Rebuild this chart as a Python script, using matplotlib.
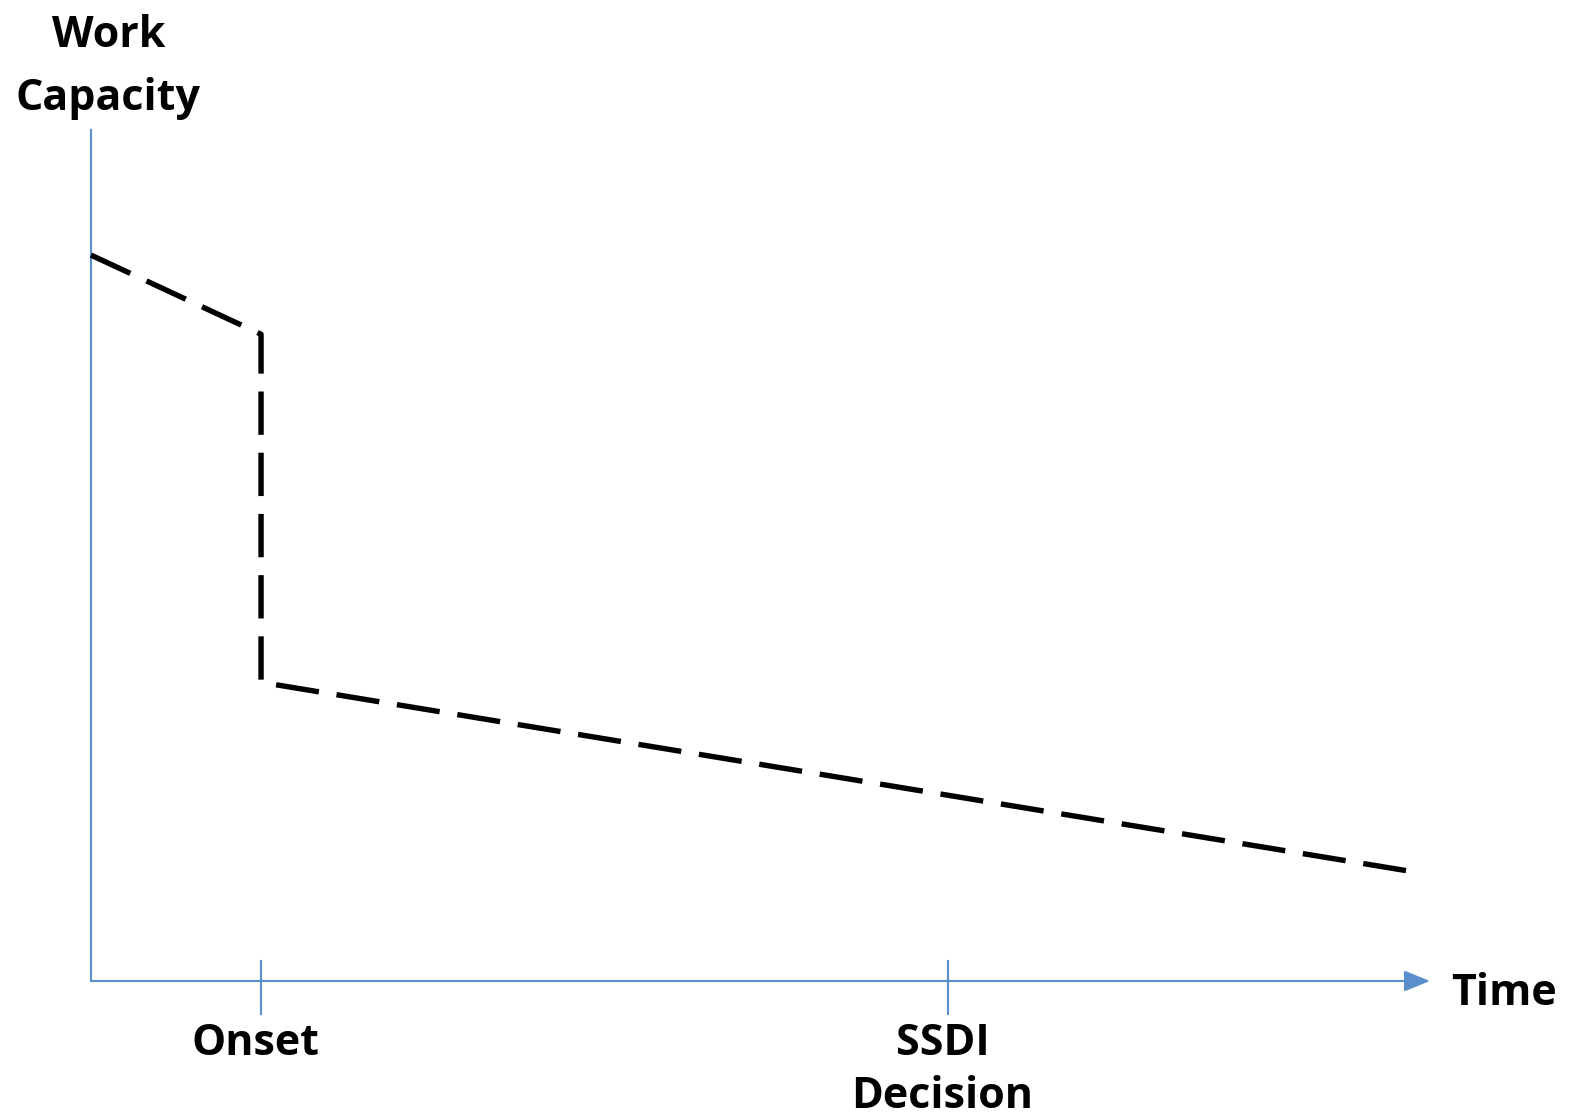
import matplotlib
matplotlib.use("Agg")
import matplotlib.pyplot as plt

# trajectory of work capacity (axis units 0..100)
time_pts = [0.0, 12.7, 12.7, 98.5]
capacity_pts = [85.3, 76.0, 35.1, 12.9]

# events on the time axis
event_x = [12.7, 64.0]
event_labels = ["Onset", "SSDI\nDecision"]
label_base = [-8.7, -14.9]

axis_color = "#5B8FCB"
font = ["Open Sans", "DejaVu Sans"]
fsize = 31

fig = plt.figure(figsize=(15.74, 11.16), dpi=100)
ax = fig.add_axes([91 / 1574, 135 / 1116, 1339 / 1574, 851 / 1116])
ax.set_xlim(0, 100)
ax.set_ylim(0, 100)
ax.axis("off")

# axes: vertical line and horizontal arrow
ax.plot([0, 0], [0, 100], color=axis_color, lw=1.5, clip_on=False)
ax.annotate("", xy=(100, 0), xytext=(0, 0),
            arrowprops=dict(arrowstyle="-|>,head_length=1.6,head_width=0.65",
                            color=axis_color, lw=1.5, shrinkA=0, shrinkB=0),
            annotation_clip=False)

# event ticks and labels
for x, lab, yb in zip(event_x, event_labels, label_base):
    ax.plot([x, x], [2.3, -3.9], color=axis_color, lw=1.5, clip_on=False)
    ax.text(x - 0.4, yb, lab, ha="center", va="baseline", fontsize=fsize,
            fontweight="bold", family=font, linespacing=1.3, clip_on=False)

# dashed capacity line
ax.plot(time_pts, capacity_pts, color="black", lw=3.9, dashes=(8, 3.3),
        dash_capstyle="butt", clip_on=False)

ax.text(101.6, -2.8, "Time", ha="left", va="baseline", fontsize=fsize,
        fontweight="bold", family=font, clip_on=False)
ax.text(1.3, 102.3, "Work\nCapacity", ha="center", va="baseline", fontsize=fsize,
        fontweight="bold", family=font, linespacing=1.62, clip_on=False)

fig.savefig("out.png", dpi=100)
